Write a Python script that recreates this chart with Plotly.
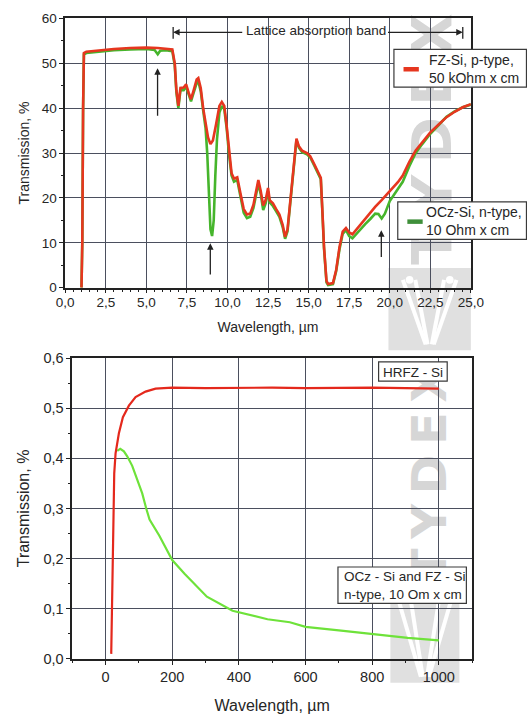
import plotly.graph_objects as go

# ---------------- Mid-IR spectra (µm) ----------------
wl_fz = [1.0, 1.05, 1.1, 1.15, 1.3, 2.0, 3.0, 4.0, 5.0, 5.7, 6.2, 6.6, 6.75, 6.85, 6.97,
         7.1, 7.3, 7.45, 7.6, 7.75, 7.9, 8.1, 8.2, 8.35, 8.5, 8.65, 8.8, 8.95, 9.1, 9.3,
         9.5, 9.65, 9.8, 9.95, 10.1, 10.25, 10.4, 10.6, 10.8, 11.0, 11.2, 11.4, 11.6, 11.8,
         11.9, 12.05, 12.2, 12.35, 12.5, 12.6, 12.8, 13.0, 13.2, 13.4, 13.55, 13.7, 13.9,
         14.1, 14.25, 14.4, 14.6, 14.9, 15.1, 15.35, 15.55, 15.75, 15.85, 15.95, 16.1, 16.2,
         16.5, 16.7, 16.9, 17.1, 17.3, 17.5, 17.7, 17.9, 18.2, 18.5, 18.8, 19.1, 19.5, 20.0,
         20.5, 20.8, 21.2, 21.6, 22.0, 22.5, 23.0, 23.5, 24.0, 24.5, 25.0]
t_fz = [0, 10, 40, 52.3, 52.6, 52.9, 53.2, 53.4, 53.5, 53.4, 53.3, 53.1, 50, 44, 40.5,
        44.5, 44.6, 45.3, 43.5, 42.0, 43.8, 46.4, 46.7, 44.5, 40, 36.5, 33.5, 32.0, 32.8, 36.5,
        40.5, 41.4, 40.5, 36, 30, 25.5, 24.3, 24.6, 21, 17.5, 16.3, 16.5, 18.5, 22.5,
        24.0, 21.5, 18.3, 19.5, 22.2, 19.5, 18.8, 17.5, 16.3, 14.0, 11.3, 13, 21,
        29, 33.2, 31.5, 30.5, 30.0, 29.3, 27.5, 26.0, 24.5, 17, 9, 1.5, 0.8,
        1.0, 4, 9, 12.5, 13.3, 12.3, 11.9, 12.8, 14.2, 15.5, 16.7, 18.0, 19.5, 21.4,
        23.5, 25.0, 28.0, 30.6, 32.3, 34.6, 36.3, 38.0, 39.2, 40.2, 40.9]

wl_ocz = [1.0, 1.05, 1.1, 1.15, 1.3, 2.0, 3.0, 4.0, 5.0, 5.5, 5.7, 5.85, 6.2, 6.6, 6.75,
          6.85, 6.97, 7.1, 7.3, 7.45, 7.6, 7.75, 7.9, 8.1, 8.2, 8.35, 8.5, 8.65, 8.75, 8.85,
          8.95, 9.05, 9.15, 9.25, 9.35, 9.5, 9.65, 9.8, 9.95, 10.1, 10.25, 10.4, 10.6, 10.8,
          11.0, 11.2, 11.4, 11.6, 11.8, 11.9, 12.05, 12.2, 12.35, 12.5, 12.6, 12.8, 13.0,
          13.2, 13.4, 13.55, 13.7, 13.9, 14.1, 14.25, 14.4, 14.6, 14.9, 15.1, 15.35, 15.55,
          15.75, 15.85, 15.95, 16.1, 16.2, 16.5, 16.7, 16.9, 17.1, 17.3, 17.5, 17.7, 17.9,
          18.2, 18.5, 18.8, 19.1, 19.3, 19.5, 19.7, 20.0, 20.5, 20.8, 21.2, 21.6, 22.0,
          22.5, 23.0, 23.5, 24.0, 24.5, 25.0]
t_ocz = [0, 10, 40, 52.0, 52.3, 52.6, 52.9, 53.1, 53.2, 53.0, 52.0, 52.8, 52.9, 52.7, 49.5,
         43.5, 40.0, 44.0, 44.0, 44.8, 43, 41.5, 43.3, 45.6, 46.0, 43.8, 39.5, 35.5, 30, 20,
         13, 11.5, 15, 25, 33, 39.0, 40.5, 39.8, 35.5, 29.5, 25, 23.6, 24.0, 20.3,
         16.7, 15.5, 15.8, 17.8, 21.8, 23.2, 20.8, 17.3, 18.8, 21.5, 19.0, 18.2, 17.0,
         15.8, 13.5, 10.9, 12.6, 20.6, 28.7, 32.9, 31.2, 30.2, 29.7, 29.0, 27.2, 25.7,
         24.2, 16.7, 8.7, 1.2, 0.6, 0.8, 3.7, 8.5, 12.0, 12.8, 11.5, 11.0, 11.8,
         13.2, 14.2, 15.3, 16.5, 16.4, 15.4, 16.5, 19.3, 22.0, 23.6, 27.0, 30.0, 32.0,
         34.3, 36.2, 38.1, 39.3, 40.2, 40.8]

# ---------------- Far-IR / THz spectra (µm) ----------------
wl_hrfz = [17, 22, 26, 30, 40, 52, 70, 90, 120, 150, 200, 300, 400, 500, 600, 700, 800, 900, 1000]
t_hrfz = [0.01, 0.20, 0.37, 0.41, 0.45, 0.482, 0.505, 0.522, 0.533, 0.539, 0.541, 0.540,
          0.541, 0.541, 0.540, 0.541, 0.541, 0.540, 0.539]

wl_ocz_thz = [35, 44, 55, 65, 80, 94, 110, 122, 132, 161, 200, 237, 270, 304, 381, 486,
              553, 600, 700, 800, 907, 1000]
t_ocz_thz = [0.415, 0.419, 0.414, 0.404, 0.385, 0.359, 0.330, 0.300, 0.278, 0.246, 0.197,
             0.170, 0.147, 0.124, 0.096, 0.079, 0.073, 0.064, 0.057, 0.050, 0.042, 0.037]

# ---------------- tick labels ----------------
ir_xticks = [0, 2.5, 5, 7.5, 10, 12.5, 15, 17.5, 20, 22.5, 25]
ir_xlabels = ["0,0", "2,5", "5,0", "7,5", "10,0", "12,5", "15,0", "17,5", "20,0", "22,5", "25,0"]
ir_yticks = [0, 10, 20, 30, 40, 50, 60]
ir_ylabels = ["0", "10", "20", "30", "40", "50", "60"]
thz_xticks = [0, 200, 400, 600, 800, 1000]
thz_xlabels = ["0", "200", "400", "600", "800", "1000"]
thz_yticks = [0, 0.1, 0.2, 0.3, 0.4, 0.5, 0.6]
thz_ylabels = ["0,0", "0,1", "0,2", "0,3", "0,4", "0,5", "0,6"]

# absorption features marked by arrows: (wavelength, tail, head)
ir_arrows = [(5.69, 38.0, 48.9), (8.94, 2.6, 9.9), (19.48, 6.5, 12.8)]
band_start, band_end, band_level = 6.65, 24.5, 56.9

# ---------------- styling ----------------
W, H = 527, 719
RED = "#e6361f"
GREEN_IR = "#46b52c"
RED_THZ = "#e4281c"
GREEN_THZ = "#6ee23a"
GRID = "#4b4f5e"
AX = "#222222"
FONT = "Liberation Sans, Arial, sans-serif"
TXT = "#262626"
WM = "#d6d6d6"


def fx(px):
    return px / W


def fy(py):
    return 1 - py / H


fig = go.Figure()
fig.add_trace(go.Scatter(x=wl_ocz, y=t_ocz, mode="lines", line=dict(color=GREEN_IR, width=2.6),
                         xaxis="x", yaxis="y", showlegend=False))
fig.add_trace(go.Scatter(x=wl_fz, y=t_fz, mode="lines", line=dict(color=RED, width=2.6),
                         xaxis="x", yaxis="y", showlegend=False))
fig.add_trace(go.Scatter(x=wl_ocz_thz, y=t_ocz_thz, mode="lines", line=dict(color=GREEN_THZ, width=2.2),
                         xaxis="x2", yaxis="y2", showlegend=False))
fig.add_trace(go.Scatter(x=wl_hrfz, y=t_hrfz, mode="lines", line=dict(color=RED_THZ, width=2.2),
                         xaxis="x2", yaxis="y2", showlegend=False))


def axis_style(tick_size, label_shift=0):
    return dict(showline=True, linecolor=AX, linewidth=1.5, mirror=True,
                ticks="outside", ticklen=4, tickwidth=1.3, tickcolor=AX,
                ticklabelstandoff=label_shift,
                showgrid=True, gridcolor=GRID, gridwidth=1, zeroline=False,
                tickfont=dict(family=FONT, size=tick_size, color=TXT))


def minor_ticks(step):
    return dict(ticks="outside", ticklen=2.5, tickcolor=AX, dtick=step, tick0=0, showgrid=False)


title_ir = dict(family=FONT, size=14, color=TXT)
title_thz = dict(family=FONT, size=16, color=TXT)

fig.update_layout(
    width=W, height=H, margin=dict(l=0, r=0, t=0, b=0),
    paper_bgcolor="white", plot_bgcolor="rgba(0,0,0,0)",
    xaxis=dict(domain=[fx(58.7), fx(482)], anchor="y", range=[0, 25],
               tickmode="array", tickvals=ir_xticks, ticktext=ir_xlabels, minor=minor_ticks(0.5),
               title=dict(text="Wavelength, µm", font=title_ir, standoff=14), **axis_style(13.5, -3)),
    yaxis=dict(domain=[fy(286), fy(10.7)], anchor="x", range=[0, 60],
               tickmode="array", tickvals=ir_yticks, ticktext=ir_ylabels, minor=minor_ticks(5),
               title=dict(text="Transmission, %", font=title_ir, standoff=9), **axis_style(13.5)),
    xaxis2=dict(domain=[fx(66), fx(483.3)], anchor="y2", range=[-100, 1100],
                tickmode="array", tickvals=thz_xticks, ticktext=thz_xlabels, minor=minor_ticks(100),
                title=dict(text="Wavelength, µm", font=title_thz, standoff=16), **axis_style(14.5)),
    yaxis2=dict(domain=[fy(665.7), fy(358)], anchor="x2", range=[0, 0.6],
                tickmode="array", tickvals=thz_yticks, ticktext=thz_ylabels, minor=minor_ticks(0.05),
                title=dict(text="Transmission, %", font=title_thz, standoff=10), **axis_style(14.5)),
)

shapes = []
annotations = []

# watermark (drawn beneath the grid and curves)
for cx, y0, y1, size in [(437, 2, 266, 56), (435, 366, 586, 48)]:
    shapes.append(dict(type="rect", xref="paper", yref="paper", layer="below",
                       x0=fx(cx - 30), x1=fx(cx + 30), y0=fy(y1), y1=fy(y0),
                       line=dict(width=0), fillcolor="rgba(0,0,0,0)",
                       label=dict(text="T\u2009Y\u2009D\u2009E\u2009X", textangle=-90,
                                  textposition="middle center",
                                  font=dict(family="DejaVu Sans", size=size, color=WM, weight="bold"))))
for lx0, lx1, ly0, ly1 in [(396, 482, 266, 350), (398, 470, 592, 690)]:
    shapes.append(dict(type="rect", xref="paper", yref="paper", layer="below",
                       x0=fx(lx0), x1=fx(lx1), y0=fy(ly1), y1=fy(ly0),
                       line=dict(width=0), fillcolor="#e0e0e0"))
    mx = (lx0 + lx1) / 2
    for dx in (-28, -15, 15, 28):
        shapes.append(dict(type="line", xref="paper", yref="paper", layer="below",
                           x0=fx(mx + dx), y0=fy(ly0 + 12), x1=fx(mx + dx * 0.15), y1=fy(ly1 - 6),
                           line=dict(color="white", width=4)))
    for dx in (-21, 21):
        shapes.append(dict(type="circle", xref="paper", yref="paper", layer="below",
                           x0=fx(mx + dx - 4), x1=fx(mx + dx + 4), y0=fy(ly0 + 16), y1=fy(ly0 + 8),
                           line=dict(width=0), fillcolor="white"))

# lattice absorption band marker
annotations.append(dict(x=15.44, y=band_level + 0.5, xref="x", yref="y", text="Lattice absorption band",
                        showarrow=False, font=dict(family=FONT, size=13.5, color=TXT)))
annotations.append(dict(x=band_start, y=band_level, ax=11.0, ay=band_level, axref="x", ayref="y",
                        xref="x", yref="y", text="", showarrow=True, arrowhead=2, arrowsize=1,
                        arrowwidth=1.3, arrowcolor=AX))
annotations.append(dict(x=band_end, y=band_level, ax=19.8, ay=band_level, axref="x", ayref="y",
                        xref="x", yref="y", text="", showarrow=True, arrowhead=2, arrowsize=1,
                        arrowwidth=1.3, arrowcolor=AX))
for bx in (band_start, band_end):
    shapes.append(dict(type="line", xref="x", yref="y", x0=bx, x1=bx, y0=band_level - 1.4,
                       y1=band_level + 1.2, line=dict(color=AX, width=1.3)))

# feature arrows
for wx, tail, head in ir_arrows:
    annotations.append(dict(x=wx, y=head, ax=wx, ay=tail, axref="x", ayref="y", xref="x", yref="y",
                            text="", showarrow=True, arrowhead=2, arrowsize=1, arrowwidth=1.3,
                            arrowcolor=AX))

# boxed labels
boxes = [
    # (x0, x1, y0, y1) in px, sample colour, text x, text y, text, anchor, font size
    (401.7, 540, 42.3, 81, RED, 436.7, 62.5, "FZ-Si, p-type,<br>50 kOhm x cm", "left", 14),
    (405.7, 540, 198.3, 236.7, "#3f8f3a", 433.3, 218.3, "OCz-Si, n-type,<br>10 Ohm x cm", "left", 14),
    (385.7, 457.3, 362, 381.7, None, 421.5, 372.3, "HRFZ - Si", "center", 13.5),
    (343.3, 477.3, 571.7, 609, None, 347.3, 590.3, "OCz - Si and FZ - Si<br>n-type, 10 Om x cm", "left", 13.5),
]
for x0, x1, y0, y1, col, tx, ty, txt, anc, fsize in boxes:
    shapes.append(dict(type="rect", xref="paper", yref="paper", x0=fx(x0), x1=fx(x1),
                       y0=fy(y1), y1=fy(y0), line=dict(color="#3a3a3a", width=1.2),
                       fillcolor="white", layer="above"))
    if col:
        shapes.append(dict(type="line", xref="paper", yref="paper", x0=fx(x0 + 10), x1=fx(x0 + 26),
                           y0=fy((y0 + y1) / 2 + 1), y1=fy((y0 + y1) / 2 + 1),
                           line=dict(color=col, width=4.5), layer="above"))
    annotations.append(dict(x=fx(tx), y=fy(ty), xref="paper", yref="paper", text=txt,
                            showarrow=False, xanchor=anc, yanchor="middle", align="left",
                            font=dict(family=FONT, size=fsize, color=TXT)))

fig.update_layout(shapes=shapes, annotations=annotations)
fig.write_html("out.html")
